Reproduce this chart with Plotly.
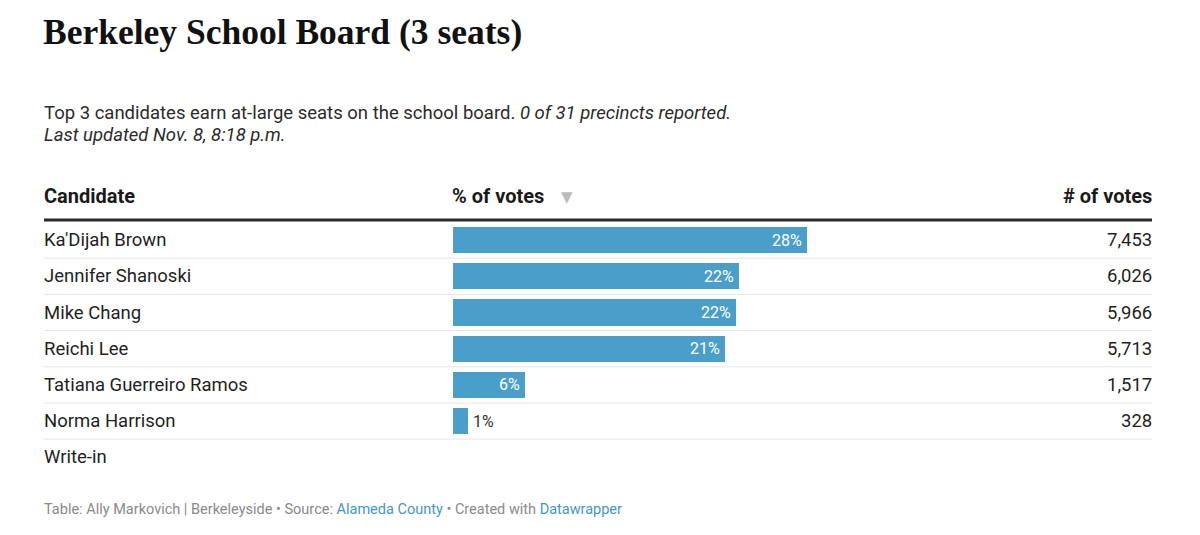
import plotly.graph_objects as go

# ---- data ----
candidates = ["Ka'Dijah Brown", "Jennifer Shanoski", "Mike Chang", "Reichi Lee",
              "Tatiana Guerreiro Ramos", "Norma Harrison", "Write-in"]
pct_votes = [27.6, 22.3, 22.1, 21.2, 5.6, 1.2, None]
num_votes = [7453, 6026, 5966, 5713, 1517, 328, None]

title = "Berkeley School Board (3 seats)"
subtitle_lines = ["Top 3 candidates earn at-large seats on the school board. "
                  "<i>0 of 31 precincts reported.</i>",
                  "<i>Last updated Nov. 8, 8:18 p.m.</i>"]
col_headers = ["Candidate", "% of votes", "# of votes"]
footer = ("Table: Ally Markovich | Berkeleyside \u2022 Source: "
          "<span style='color:#3f98c8'>Alameda County</span> \u2022 Created with "
          "<span style='color:#3f98c8'>Datawrapper</span>")

# ---- layout helpers (page pixel -> paper); page body margin offsets the figure by 8px ----
W, H = 1200, 535
OX, OY = 8, 8
def px(x): return (x - OX) / W
def py(y): return 1 - (y - OY) / H

BAR_COLOR = "#4a9eca"
TEXT = "#1f1f1f"
BODY_FONT = "Roboto"
BODY_SIZE = 18.5

row_top = 222
row_h = 36.2
n = len(candidates)
row_bottom = row_top + n * row_h
bar_left, bar_right = 453, 807
left_x, right_x = 44, 1152

fig = go.Figure()
idx = list(range(n))
fig.add_trace(go.Bar(
    x=pct_votes, y=idx, orientation="h",
    marker=dict(color=BAR_COLOR, line=dict(width=0)),
    width=0.72, hoverinfo="skip", showlegend=False,
))

max_pct = max(v for v in pct_votes if v is not None)

annotations = []
# title
annotations.append(dict(text="<b>" + title + "</b>", x=px(left_x - 3), y=py(32), xref="paper", yref="paper",
                        xanchor="left", yanchor="middle", showarrow=False,
                        font=dict(family="Liberation Serif", size=35.5, color="#111111")))
# subtitle
for k, line in enumerate(subtitle_lines):
    annotations.append(dict(text=line, x=px(left_x - 2), y=py(113 + 22 * k), xref="paper", yref="paper",
                            xanchor="left", yanchor="middle", showarrow=False, align="left",
                            font=dict(family=BODY_FONT, size=BODY_SIZE, color="#2b2b2b")))
# headers
hdr_y = py(196)
hdr_font = dict(family=BODY_FONT, size=20, color="#1a1a1a")
annotations.append(dict(text="<b>" + col_headers[0] + "</b>", x=px(left_x - 2), y=hdr_y, xref="paper", yref="paper",
                        xanchor="left", yanchor="middle", showarrow=False, font=hdr_font))
annotations.append(dict(text="<b>" + col_headers[1] + "</b>", x=px(bar_left - 3), y=hdr_y, xref="paper", yref="paper",
                        xanchor="left", yanchor="middle", showarrow=False, font=hdr_font))
annotations.append(dict(text="\u25BC", x=px(567), y=py(197), xref="paper", yref="paper",
                        xanchor="center", yanchor="middle", showarrow=False,
                        font=dict(family="DejaVu Sans", size=15, color="#bbbbbb")))
annotations.append(dict(text="<b>" + col_headers[2] + "</b>", x=px(right_x + 2), y=hdr_y, xref="paper", yref="paper",
                        xanchor="right", yanchor="middle", showarrow=False, font=hdr_font))

# rows
for i, (name, p, v) in enumerate(zip(candidates, pct_votes, num_votes)):
    annotations.append(dict(text=name, x=px(left_x - 2), y=i, xref="paper", yref="y",
                            xanchor="left", yanchor="middle", showarrow=False,
                            font=dict(family=BODY_FONT, size=BODY_SIZE, color=TEXT)))
    if v is not None:
        annotations.append(dict(text=f"{v:,}", x=px(right_x + 2), y=i, xref="paper", yref="y",
                                xanchor="right", yanchor="middle", showarrow=False,
                                font=dict(family=BODY_FONT, size=BODY_SIZE, color=TEXT)))
    if p is not None:
        label = f"{round(p):.0f}%"
        if p >= 4:
            annotations.append(dict(text=label, x=p, y=i, xref="x", yref="y",
                                    xanchor="right", yanchor="middle", xshift=-3, showarrow=False,
                                    font=dict(family=BODY_FONT, size=16, color="white")))
        else:
            annotations.append(dict(text=label, x=p, y=i, xref="x", yref="y",
                                    xanchor="left", yanchor="middle", xshift=3, showarrow=False,
                                    font=dict(family=BODY_FONT, size=16, color="#333333")))

# footer
annotations.append(dict(text=footer, x=px(left_x - 2), y=py(509), xref="paper", yref="paper",
                        xanchor="left", yanchor="middle", showarrow=False,
                        font=dict(family=BODY_FONT, size=14.5, color="#8a8a8a")))

shapes = [dict(type="line", xref="paper", yref="paper", x0=px(left_x), x1=px(right_x),
               y0=py(220), y1=py(220), line=dict(color="#2a2a2a", width=3))]
for i in range(n - 1):
    shapes.append(dict(type="line", xref="paper", yref="y", x0=px(left_x), x1=px(right_x),
                       y0=i + 0.5, y1=i + 0.5, line=dict(color="#e6e6e6", width=1)))

fig.update_layout(
    width=W, height=H,
    margin=dict(l=0, r=0, t=0, b=0),
    paper_bgcolor="white", plot_bgcolor="rgba(0,0,0,0)",
    xaxis=dict(domain=[px(bar_left), px(bar_right)], range=[0, max_pct],
               visible=False, fixedrange=True),
    yaxis=dict(domain=[py(row_bottom), py(row_top)], range=[n - 0.5, -0.5],
               visible=False, fixedrange=True),
    annotations=annotations, shapes=shapes, bargap=0,
)

fig.write_html("out.html")
